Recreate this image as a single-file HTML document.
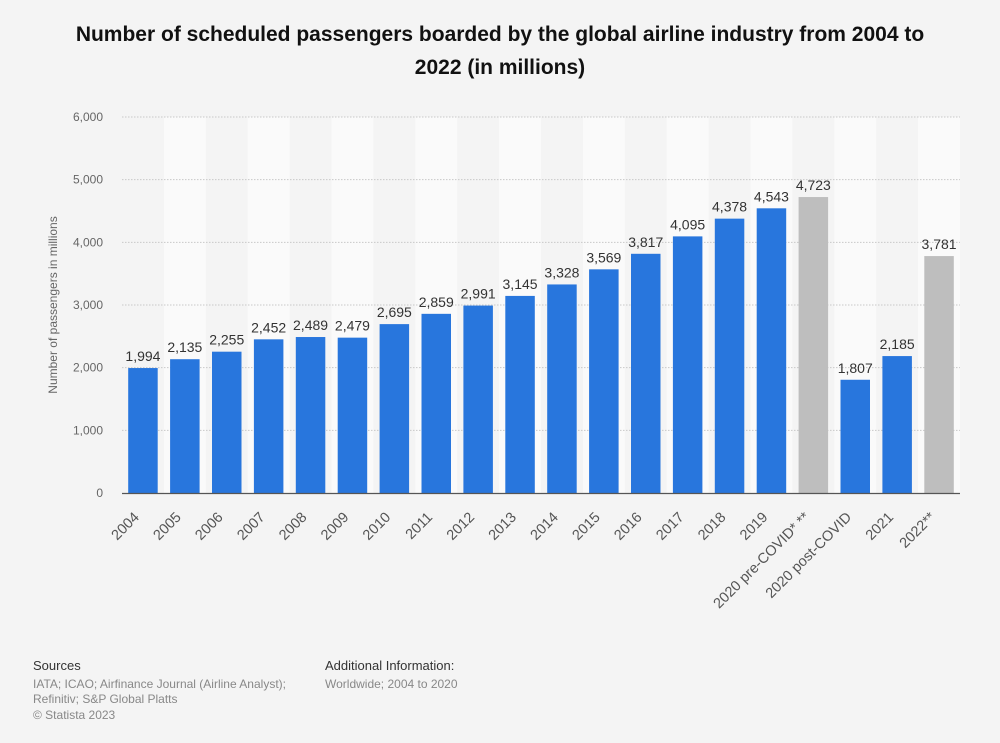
<!DOCTYPE html>
<html><head><meta charset="utf-8"><style>
body{margin:0;background:#f4f4f4;font-family:"Liberation Sans",Arial,sans-serif;}
#wrap{position:relative;width:1000px;height:743px;overflow:hidden;background:#f4f4f4}
h1{position:absolute;left:65px;top:18px;width:870px;margin:0;text-align:center;font-size:21px;line-height:33px;font-weight:bold;color:#111}
.ft{position:absolute;font-size:12px;color:#888;line-height:15.5px}
.ft b{display:block;font-weight:normal;color:#333;font-size:13px;margin-bottom:3px}
</style></head><body>
<div id="wrap">
<h1>Number of scheduled passengers boarded by the global airline industry from 2004 to 2022 (in millions)</h1>
<svg id="chart" width="1000" height="743" style="position:absolute;left:0;top:0"></svg>
<div class="ft" style="left:33px;top:658px"><b>Sources</b>IATA; ICAO; Airfinance Journal (Airline Analyst);<br>Refinitiv; S&amp;P Global Platts<br>© Statista 2023</div>
<div class="ft" style="left:325px;top:658px"><b>Additional Information:</b>Worldwide; 2004 to 2020</div>
</div>
<script>
const categories=["2004","2005","2006","2007","2008","2009","2010","2011","2012","2013","2014","2015","2016","2017","2018","2019","2020 pre-COVID* **","2020 post-COVID","2021","2022**"];
const values=[1994,2135,2255,2452,2489,2479,2695,2859,2991,3145,3328,3569,3817,4095,4378,4543,4723,1807,2185,3781];
const projected=[false,false,false,false,false,false,false,false,false,false,false,false,false,false,false,false,true,false,false,true];
const yTicks=[0,1000,2000,3000,4000,5000,6000];
const NS="http://www.w3.org/2000/svg";
const svg=document.getElementById('chart');
const x0=122,x1=960,yTop=117,yBot=493,yMax=6000;
const band=(x1-x0)/categories.length;
const bw=29.5;
function xs(i){return x0+i*band;}
function ys(v){return yBot-(v/yMax)*(yBot-yTop);}
function el(t,a){const e=document.createElementNS(NS,t);for(const k in a)e.setAttribute(k,a[k]);svg.appendChild(e);return e;}
categories.forEach((c,i)=>{if(i%2===1){const r=el('rect',{x:xs(i),y:yTop,width:band,height:yBot-yTop,fill:'#fafafa'});

}});
yTicks.forEach(t=>{
 if(t>0){const l=el('line',{x1:x0,x2:x1,y1:ys(t),y2:ys(t),stroke:'#c8c8c8','stroke-dasharray':'1.5,1.5'});
 
 }
 const tx=el('text',{x:103,y:ys(t)+4,'text-anchor':'end','font-size':'12',fill:'#666'});
 tx.textContent=t.toLocaleString('en-US');
 
 
});
const yt=el('text',{x:0,y:0,'text-anchor':'middle','font-size':'12',fill:'#666',transform:'translate(57,305) rotate(-90)'});
yt.textContent='Number of passengers in millions';


values.forEach((v,i)=>{
 const cx=xs(i)+band/2;
 const r=el('rect',{x:cx-bw/2,y:ys(v),width:bw,height:yBot-ys(v),fill:projected[i]?'#bebebe':'#2876dd'});
 
 
 const t=el('text',{x:cx,y:ys(v)-7,'text-anchor':'middle','font-size':'14',fill:'#333'});
 t.textContent=v.toLocaleString('en-US');
 
 
 const xl=el('text',{x:0,y:0,'text-anchor':'end','font-size':'14.5',fill:'#555',transform:`translate(${cx-3},${yBot+25}) rotate(-45)`});
 xl.textContent=categories[i];
 
 
});
const ax=el('line',{x1:x0,x2:x1,y1:yBot+0.5,y2:yBot+0.5,stroke:'#555','stroke-width':1.3});


</script>
</body></html>
